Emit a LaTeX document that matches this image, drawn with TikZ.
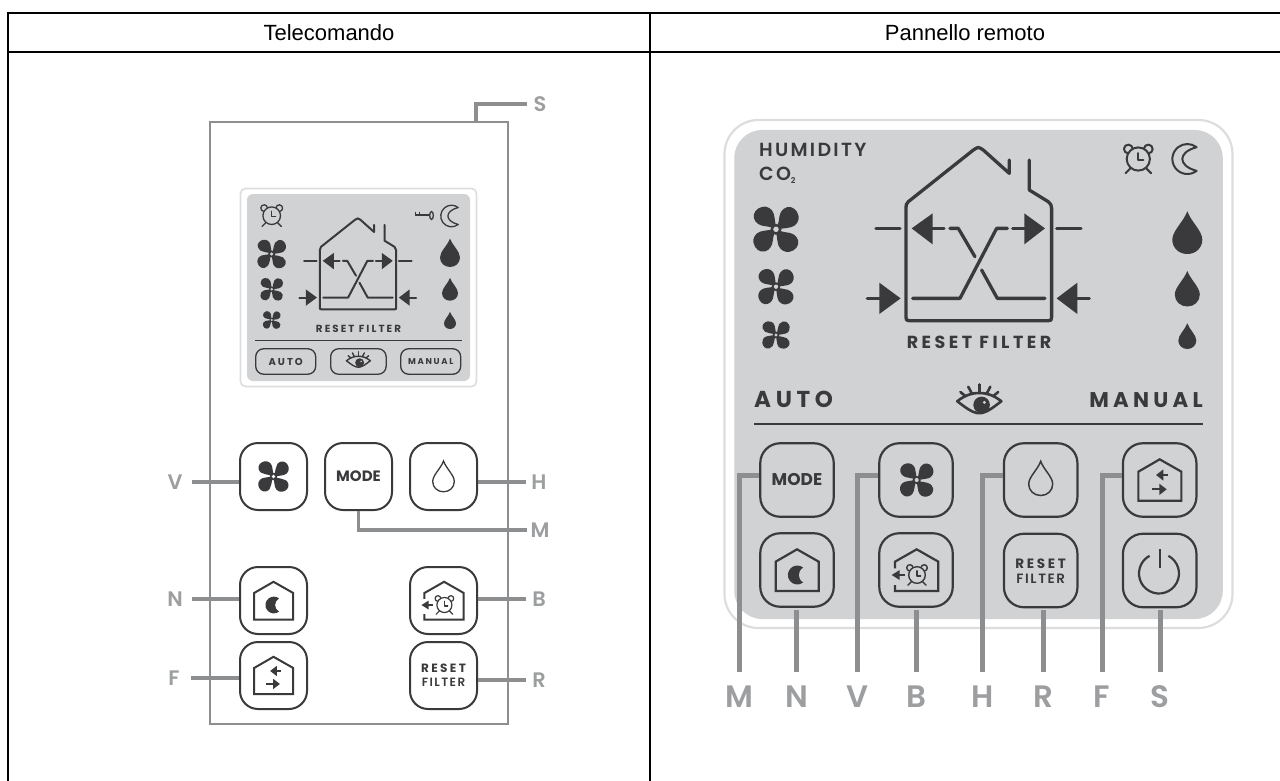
\documentclass[tikz,border=0pt]{standalone}
\usepackage{fontspec}
\setmainfont{Liberation Sans}
\newfontfamily\pops{Poppins SemiBold}
\newfontfamily\popb{Poppins}[BoldFont=Poppins Bold]
\newfontfamily\popw[LetterSpace=12]{Poppins SemiBold}
\newfontfamily\popx[LetterSpace=20]{Poppins SemiBold}
\newfontfamily\popy[LetterSpace=20]{Poppins Bold}
\definecolor{ink}{HTML}{3A3A3C}
\definecolor{lcd}{HTML}{D1D2D4}
\definecolor{rimc}{HTML}{DDDDDD}
\definecolor{leadc}{HTML}{8C8E90}
\definecolor{tagc}{HTML}{9C9EA0}
\tikzset{
 x=1pt,y=-1pt,
 rowline/.style={line width=2pt,black},
 title/.style={font=\fontsize{22}{26}\selectfont,inner sep=0pt,text=black},
 btnA/.style={draw=ink,line width=2pt,rounded corners=18pt,minimum size=67pt,inner sep=0pt,fill=white,text=ink},
 btnB/.style={draw=ink,line width=2.2pt,rounded corners=20pt,minimum size=73.5pt,inner sep=0pt,text=ink},
 pill/.style={draw=ink,line width=1.3pt,rounded corners=8pt,minimum height=25.5pt,inner sep=0pt,text=ink},
 leadA/.style={draw=leadc,line width=3.2pt},
 leadB/.style={draw=leadc,line width=5pt},
 tagL/.style={font=\fontsize{21}{21}\selectfont\pops,text=tagc,text height=15pt,text depth=0pt,inner ysep=0pt,inner xsep=0pt,minimum width=34pt},
 tagR/.style={tagL,minimum width=26pt},
 tagB/.style={font=\fontsize{31}{31}\selectfont\pops,text=tagc,text height=22pt,text depth=0pt,inner ysep=13pt,inner xsep=0pt,anchor=base},
 inkfill/.style={fill=ink,draw=none},
 inkline/.style={draw=ink,line cap=round,line join=round},
}
\newcommand{\fanicon}[4][lcd]{%
 \begin{scope}[shift={(#2,#3)},scale=#4]
 \foreach \a in {0,90,180,270}{%
  \fill[ink,rotate=\a] (0,0) .. controls (-0.03,-0.25) and (-0.04,-0.45) .. (-0.1,-0.68) .. controls (-0.16,-0.9) and (-0.4,-1.02) .. (-0.58,-0.98) .. controls (-0.85,-0.93) and (-1.02,-0.7) .. (-0.96,-0.48) .. controls (-0.9,-0.26) and (-0.7,-0.16) .. (-0.5,-0.14) .. controls (-0.3,-0.12) and (-0.12,-0.06) .. (0,0) -- cycle;}
 \fill[ink] (0,0) circle (0.24);
 \fill[#1] (0,0) circle (0.12);
 \end{scope}}
\newcommand{\dropicon}[4]{%
 \begin{scope}[shift={(#1,#2)},scale=#3]
 \path[#4] (0,-1.85) .. controls (0.25,-1.15) and (1,-0.55) .. (1,0.05) .. controls (1,0.6) and (0.55,1) .. (0,1) .. controls (-0.55,1) and (-1,0.6) .. (-1,0.05) .. controls (-1,-0.55) and (-0.25,-1.15) .. (0,-1.85) -- cycle;
 \end{scope}}
\newcommand{\clockicon}[4]{% x y r lw
 \begin{scope}[shift={(#1,#2)},scale=#3]
 \begin{scope}[inkline,line width=#4pt]
 \draw (0,0) circle (0.8);
 \draw (-0.69,-0.69) ++(95:0.3) arc (95:355:0.3);
 \draw (0.69,-0.69) ++(185:0.3) arc (185:445:0.3);
 \draw (-0.52,0.62) -- (-0.88,0.98);
 \draw (0.52,0.62) -- (0.88,0.98);
 \draw (0,-0.4) -- (0,0.1) -- (0.35,0.1);
 \end{scope}
 \end{scope}}
\newcommand{\moonline}[4]{% x y r lw
 \begin{scope}[shift={(#1,#2)},scale=#3]
 \draw[inkline,line width=#4pt] (0.62,0.79) arc (52:308:1) .. controls (-0.65,-0.45) and (-0.65,0.45) .. cycle;
 \end{scope}}
\newcommand{\moonfill}[3]{% x y r
 \begin{scope}[shift={(#1,#2)},scale=#3]
 \fill[ink] (0.62,0.79) arc (52:308:1) .. controls (0,-0.4) and (0,0.4) .. cycle;
 \end{scope}}
\newcommand{\eyeicon}[4]{% x y halfwidth lw
 \begin{scope}[shift={(#1,#2)},scale=#3]
 \begin{scope}[inkline,line width=#4pt]
 \draw (-0.96,-0.02) .. controls (-0.6,-0.3) and (-0.3,-0.38) .. (0,-0.38) .. controls (0.3,-0.38) and (0.6,-0.3) .. (0.96,-0.02) .. controls (0.6,0.25) and (0.3,0.5) .. (0,0.5) .. controls (-0.3,0.5) and (-0.6,0.25) .. (-0.96,-0.02) -- cycle;
 \draw (-0.6,-0.24) -- (-0.82,-0.42);
 \draw (-0.32,-0.35) -- (-0.48,-0.65);
 \draw (0,-0.38) -- (0,-0.75);
 \draw (0.32,-0.35) -- (0.48,-0.65);
 \draw (0.6,-0.24) -- (0.82,-0.42);
 \end{scope}
 \fill[ink] (0.1,0.14) circle (0.36);
 \fill[lcd] (0.22,0.03) circle (0.07);
 \end{scope}}
\newcommand{\keyicon}[3]{% x y s
 \begin{scope}[shift={(#1,#2)},scale=#3]
 \draw[inkline,line width=1.3pt] (0,0) -- (14,0) (0,0) -- (0,-2.5) (4,0) -- (4,-2.5);
 \draw[ink,line width=1.3pt] (16,0.5) ellipse (1.8 and 4);
 \end{scope}}
\newcommand{\houseicon}[4]{% x y s lw
 \begin{scope}[shift={(#1,#2)},scale=#3/3,shift={(-776.5,-632)}]
 \begin{scope}[inkline,line width=#4pt]
 \draw (868,150) -- (868,190) -- (790,120) .. controls (775,110) and (775,110) .. (760,120) -- (565,275) .. controls (558,282) and (558,285) .. (558,295) -- (558,622) .. controls (558,630) and (560,632) .. (568,632) -- (985,632) .. controls (993,632) and (995,630) .. (995,622) -- (995,295) .. controls (995,285) and (992,282) .. (985,275) -- (928,240) -- (928,150);
 \draw (468,355) -- (540,355);
 \draw (1010,355) -- (1083,355);
 \draw (620,355) -- (672,355);
 \draw (690,355) -- (715,355) -- (765,440);
 \draw (785,480) -- (832,565) -- (975,565);
 \draw (862,355) -- (830,355) -- (720,565) -- (578,565);
 \draw (878,355) -- (930,355);
 \draw (442,565) -- (490,565);
 \draw (1060,565) -- (1108,565);
 \end{scope}
 \fill[ink] (575,355) -- (638,310) -- (638,403) -- cycle;
 \fill[ink] (975,355) -- (913,310) -- (913,403) -- cycle;
 \fill[ink] (542,565) -- (478,518) -- (478,612) -- cycle;
 \fill[ink] (1010,565) -- (1072,518) -- (1072,612) -- cycle;
 \end{scope}}
\begin{document}
\begin{tikzpicture}
\useasboundingbox (0,0) rectangle (1280,781);
\fill[white] (0,0) rectangle (1280,781);
% table
\coordinate (tl) at (7,13); \coordinate (tr) at (1280,13);
\coordinate (ml) at (7,52); \coordinate (mr) at (1280,52);
\coordinate (lt) at (8,13); \coordinate (lb) at (8,781);
\coordinate (ct) at (650,13); \coordinate (cb) at (650,781);
\draw[rowline] (tl) -- (tr);
\draw[rowline] (ml) -- (mr);
\draw[rowline] (lt) -- (lb);
\draw[rowline] (ct) -- (cb);
\node[title] (t1) at (329,32.5) {Telecomando};
\node[title] (t2) at (965,32.5) {Pannello remoto};

% ---------- remote control
\node[draw=leadc,line width=2pt,minimum width=298pt,minimum height=602pt,inner sep=0pt] (rc) at (358.5,423) {};
\coordinate (stick) at (476,122);
\node[draw=rimc,line width=1.6pt,fill=white,rounded corners=5pt,minimum width=236pt,minimum height=198pt,inner sep=0pt] (scr) at (358.5,287.5) {};
\node[fill=lcd,rounded corners=6pt,minimum width=223pt,minimum height=187pt,inner sep=0pt] (scri) at (358.5,287.5) {};
\clockicon{271.7}{215.7}{11}{1.3}
\keyicon{415.5}{215}{1}
\moonline{451.5}{216}{10.8}{1.3}
\fanicon{271.7}{254}{14.5}
\fanicon{271.7}{289.3}{11.5}
\fanicon{271.7}{320}{9}
\dropicon{450}{257}{10}{inkfill}
\dropicon{450}{292.7}{8}{inkfill}
\dropicon{450}{323}{6}{inkfill}
\houseicon{358}{309.3}{.525}{2}
\node[font=\fontsize{10.3}{10}\selectfont\popy,text=ink,inner sep=0pt] (rf1) at (358.5,328.5) {RESET FILTER};
\draw[ink,line width=1.3pt] (255,340.3) coordinate (ls1) -- (461.7,340.3) coordinate (ls2);
\node[pill,minimum width=60pt,font=\fontsize{10}{10}\selectfont\popy] (pa) at (285.7,361.5) {AUTO};
\node[pill,minimum width=55.5pt] (pe) at (358.4,361.5) {};
\node[pill,minimum width=60pt,font=\fontsize{8.5}{10}\selectfont\popy] (pm) at (430.7,361.5) {MANUAL};
\eyeicon{358.4}{361}{12.5}{1.4}

\node[btnA] (aV) at (273.5,476.5) {};
\node[btnA,font=\fontsize{15}{15}\selectfont\popb\bfseries] (aM) at (358.5,476.5) {MODE};
\node[btnA] (aH) at (443.5,476.5) {};
\node[btnA] (aN) at (273.5,600.5) {};
\node[btnA] (aB) at (443.5,600.5) {};
\node[btnA] (aF) at (273.5,675.5) {};
\node[btnA,font=\fontsize{12}{15}\selectfont\pops,align=center] (aR) at (443.5,675.5) {{\popy RESET}\\[-1pt]{\popw FILTER}};

\node[tagL] (lV) at (175,482) {V};
\node[tagL] (lN) at (175,599) {N};
\node[tagL] (lF) at (174,678) {F};
\node[tagR] (lH) at (539,482) {H};
\node[tagR] (lM) at (540,530) {M};
\node[tagR] (lB) at (539,599) {B};
\node[tagR] (lR) at (539,680) {R};
\node[tagR] (lS) at (540,104) {S};
\draw[leadA] (lV.east) -- (aV.west |- lV.east);
\draw[leadA] (lN.east) -- (aN.west |- lN.east);
\draw[leadA] (lF.east) -- (aF.west |- lF.east);
\draw[leadA] (lH.west) -- (aH.east |- lH.west);
\draw[leadA] (lB.west) -- (aB.east |- lB.west);
\draw[leadA] (lR.west) -- (aR.east |- lR.west);
\draw[leadA] (aM.south) |- (lM.west);
\draw[leadA] (stick) |- (lS.west);

\fanicon[white]{273.5}{476.5}{15.5}
\dropicon{443.5}{481}{10.8}{draw=ink,line width=1.3pt}
% N button
\begin{scope}[shift={(aN.center)},scale=.905/3,shift={(-231,-420)}]
 \draw[ink,line width=2pt] (167,395) -- (231,358) -- (296,395) -- (296,483) -- (167,483) -- cycle;
\end{scope}
\moonfill{273.8}{605}{8.4}
% B button
\begin{scope}[shift={(aB.center)},scale=.905/3,shift={(-590,-420)}]
 \draw[ink,line width=2pt] (527,415) -- (527,395) -- (592,358) -- (657,395) -- (657,483) -- (527,483) -- (527,465);
 \draw[ink,line width=2pt] (530,435) -- (556,435);
 \fill[ink] (517,435) -- (541,420) -- (541,450) -- cycle;
\end{scope}
\clockicon{444.4}{605}{9.4}{1.2}
% F button
\begin{scope}[shift={(aF.center)},scale=.905/3,shift={(-1319,-150)}]
 \draw[ink,line width=2pt] (1255,125) -- (1319,88) -- (1384,125) -- (1384,212) -- (1255,212) -- cycle;
 \fill[ink] (1308,135) -- (1330,118) -- (1330,152) -- cycle;
 \draw[ink,line width=2pt] (1325,135) -- (1343,135);
 \fill[ink] (1340,178) -- (1318,161) -- (1318,195) -- cycle;
 \draw[ink,line width=2pt] (1295,178) -- (1320,178);
\end{scope}

% ---------- wall panel
\node[draw=rimc,line width=2.2pt,fill=white,rounded corners=34pt,minimum width=508pt,minimum height=508pt,inner sep=0pt] (pn) at (978.5,374) {};
\node[fill=lcd,rounded corners=28pt,minimum width=488.5pt,minimum height=489pt,inner sep=0pt] (pni) at (978.5,374.5) {};
\node[anchor=base west,font=\fontsize{19}{18}\selectfont\popw,text=ink,inner sep=0pt] (hum) at (759,156.5) {HUMIDITY};
\node[anchor=base west,font=\fontsize{19}{18}\selectfont\popw,text=ink,inner sep=0pt] (coo) at (759,181) {CO{\fontsize{8}{8}\selectfont\raisebox{-2pt}{2}}};
\clockicon{1138.3}{159}{14.5}{2}
\moonline{1187.3}{159}{15}{2}
\fanicon{776}{229.3}{23}
\fanicon{776}{286.7}{18}
\fanicon{776}{335}{14}
\dropicon{1187.3}{239}{15}{inkfill}
\dropicon{1187.3}{294}{12.5}{inkfill}
\dropicon{1187.3}{340}{9}{inkfill}
\houseicon{978.8}{320.7}{1}{3.3}
\node[font=\fontsize{17.5}{18}\selectfont\popy,text=ink,inner sep=0pt] (rf2) at (979,342.5) {RESET FILTER};
\node[anchor=base west,font=\fontsize{23}{23}\selectfont\popy,text=ink,inner sep=0pt] (au) at (754,407) {AUTO};
\node[anchor=base east,font=\fontsize{21.3}{23}\selectfont\popy,text=ink,inner sep=0pt] (ma) at (1203,407) {MANUAL};
\eyeicon{979.3}{401.7}{23}{2.6}
\draw[ink,line width=2.3pt] (754,424.3) coordinate (ln1) -- (1203,424.3) coordinate (ln2);

\node[tagB] (tM) at (739,707) {M};
\node[tagB] (tN) at (796.7,707) {N};
\node[tagB] (tV) at (857.3,707) {V};
\node[tagB] (tB) at (916.7,707) {B};
\node[tagB] (tH) at (982.3,707) {H};
\node[tagB] (tR) at (1043.3,707) {R};
\node[tagB] (tF) at (1102,707) {F};
\node[tagB] (tS) at (1160,707) {S};

\node[btnB] (cM) at (797,480) {};
\node[btnB] (cV) at (916,480) {};
\node[btnB] (cH) at (1040.7,480) {};
\node[btnB] (cF) at (1159.7,480) {};
\node[btnB] (cN) at (797,570) {};
\node[btnB] (cB) at (916,570) {};
\node[btnB] (cR) at (1040.7,570.5) {};
\node[btnB] (cS) at (1159.7,570.5) {};
\node[font=\fontsize{17}{17}\selectfont\popb\bfseries,text=ink,inner sep=0pt] (mo) at (797,480) {MODE};
\node[font=\fontsize{13.5}{16}\selectfont\pops,text=ink,inner sep=0pt,align=center] (re) at (1040.7,571) {{\popy RESET}\\[-0.5pt]{\popw FILTER}};

\draw[leadB] ([yshift=5pt]cM.west) -| (tM.north);
\draw[leadB] ([yshift=5pt]cV.west) -| (tV.north);
\draw[leadB] ([yshift=5pt]cH.west) -| (tH.north);
\draw[leadB] ([yshift=5pt]cF.west) -| (tF.north);
\draw[leadB] ([yshift=-2pt]tN.north |- cN.south) -- (tN.north);
\draw[leadB] ([yshift=-2pt]tB.north |- cB.south) -- (tB.north);
\draw[leadB] ([yshift=-2pt]tR.north |- cR.south) -- (tR.north);
\draw[leadB] ([yshift=-2pt]tS.north |- cS.south) -- (tS.north);

\fanicon{916.7}{480}{17}
\dropicon{1040.7}{483.5}{12}{draw=ink,line width=1.5pt}
\begin{scope}[shift={(cN.center)},scale=1/3,shift={(-231,-420)}]
 \draw[ink,line width=2.2pt] (167,395) -- (231,358) -- (296,395) -- (296,483) -- (167,483) -- cycle;
\end{scope}
\moonfill{797.3}{575}{9.5}
\begin{scope}[shift={(cB.center)},scale=1/3,shift={(-590,-420)}]
 \draw[ink,line width=2.2pt] (527,415) -- (527,395) -- (592,358) -- (657,395) -- (657,483) -- (527,483) -- (527,465);
 \draw[ink,line width=2.2pt] (530,435) -- (556,435);
 \fill[ink] (517,435) -- (541,420) -- (541,450) -- cycle;
\end{scope}
\clockicon{917}{575}{10.4}{1.4}
\begin{scope}[shift={(cF.center)},scale=1/3,shift={(-1319,-150)}]
 \draw[ink,line width=2.2pt] (1255,125) -- (1319,88) -- (1384,125) -- (1384,212) -- (1255,212) -- cycle;
 \fill[ink] (1308,135) -- (1330,118) -- (1330,152) -- cycle;
 \draw[ink,line width=2.2pt] (1325,135) -- (1343,135);
 \fill[ink] (1340,178) -- (1318,161) -- (1318,195) -- cycle;
 \draw[ink,line width=2.2pt] (1295,178) -- (1320,178);
\end{scope}
\begin{scope}[shift={(cS.center)},scale=1/3,shift={(-1319,-420)}]
 \draw[ink,line width=2.2pt] (1345,376) arc (-62:242:60);
 \draw[ink,line width=2.2pt] (1320,355) -- (1320,413);
\end{scope}
\end{tikzpicture}
\end{document}
